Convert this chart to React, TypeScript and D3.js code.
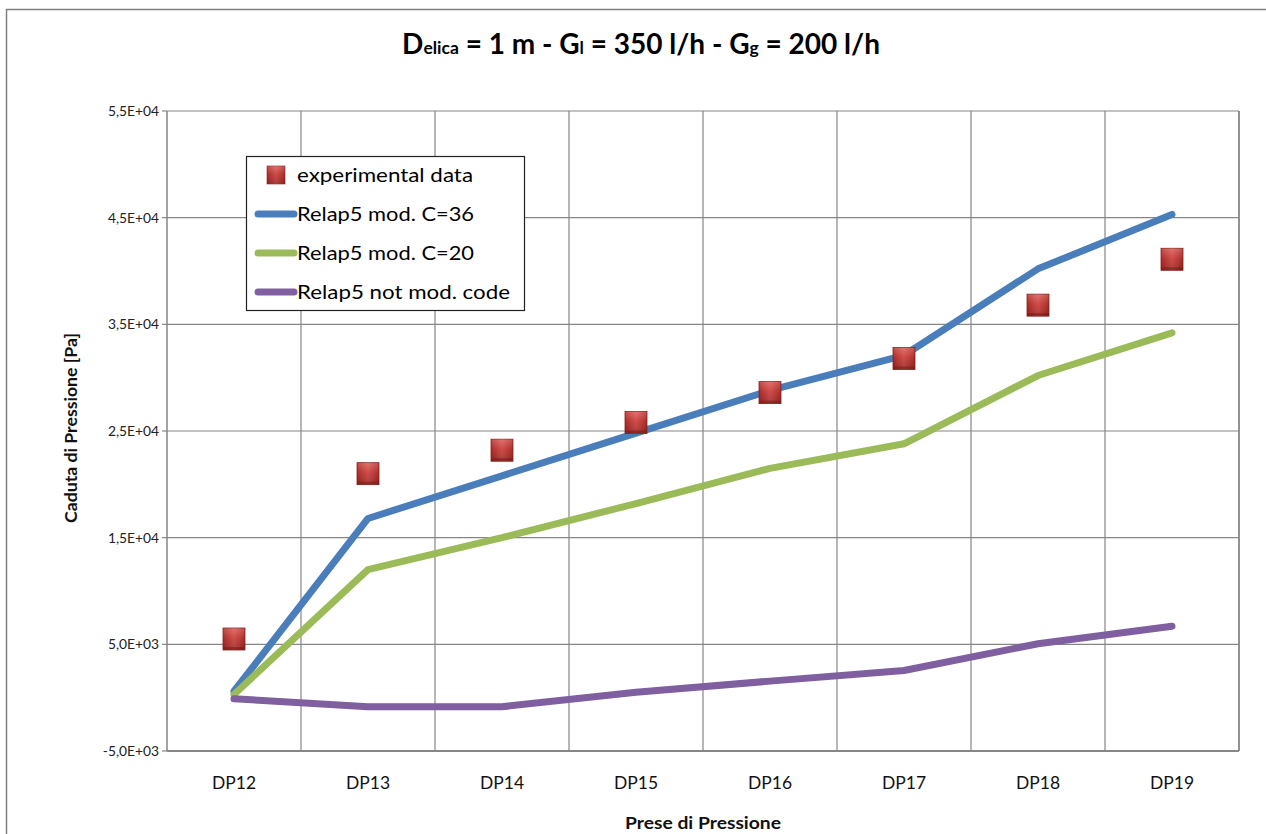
import React from "react";
import * as d3 from "d3";

const categories = ["DP12", "DP13", "DP14", "DP15", "DP16", "DP17", "DP18", "DP19"];
const experimental = [5500, 21000, 23200, 25800, 28600, 31800, 36800, 41100];
const relapC36 = [600, 16800, 20800, 24800, 28800, 32100, 40200, 45300];
const relapC20 = [300, 12000, 15000, 18200, 21500, 23800, 30200, 34200];
const relapNotMod = [-100, -850, -850, 500, 1550, 2550, 5050, 6700];
const yTicks = [-5000, 5000, 15000, 25000, 35000, 45000, 55000];
const yTickLabels = ["-5,0E+03", "5,0E+03", "1,5E+04", "2,5E+04", "3,5E+04", "4,5E+04", "5,5E+04"];

const series = [
  { name: "Relap5 mod. C=36", values: relapC36, color: "#4A7EBB", w: 177 },
  { name: "Relap5 mod. C=20", values: relapC20, color: "#9BBB59", w: 177 },
  { name: "Relap5 not mod. code", values: relapNotMod, color: "#7F5FA0", w: 213 },
];

const FONT = "Lato, 'Open Sans', sans-serif";

export default function App() {
  const left = 167, right = 1239, top = 111, bottom = 751;
  const x = d3.scaleBand().domain(categories).range([left, right]);
  const y = d3.scaleLinear().domain([-5000, 55000]).range([bottom, top]);
  const cx = (c: string) => (x(c) as number) + x.bandwidth() / 2;
  const line = d3
    .line<number>()
    .x((_, i) => cx(categories[i]))
    .y((v) => y(v));
  const grid = "#868686";
  const ms = 22;

  return (
    <svg width={1266} height={834} style={{ position: "absolute", left: 0, top: 0, background: "#fff" }}>
      <defs>
        <linearGradient id="mk" x1="0" y1="0" x2="0" y2="1">
          <stop offset="0" stopColor="#E0605C" />
          <stop offset="0.45" stopColor="#C83430" />
          <stop offset="1" stopColor="#A02622" />
        </linearGradient>
        <linearGradient id="mkh" x1="0" y1="0" x2="1" y2="0">
          <stop offset="0" stopColor="#000" stopOpacity="0.15" />
          <stop offset="0.5" stopColor="#fff" stopOpacity="0.12" />
          <stop offset="1" stopColor="#000" stopOpacity="0.15" />
        </linearGradient>
      </defs>
      <rect x={0} y={0} width={1266} height={834} fill="#fff" />
      {/* outer frame */}
      <path d="M6.5,834 L6.5,9.5 L1266,9.5" fill="none" stroke="#7f7f7f" strokeWidth={1.5} />

      {/* title */}
      <text x={641} y={54} textAnchor="middle" fontFamily={FONT} fontWeight="bold" fontSize={28} fill="#000">
        <tspan>D</tspan>
        <tspan fontSize={17.5}>elica</tspan>
        <tspan> = 1 m - G</tspan>
        <tspan fontSize={17.5}>l</tspan>
        <tspan> = 350 l/h - G</tspan>
        <tspan fontSize={17.5}>g</tspan>
        <tspan> = 200 l/h</tspan>
      </text>

      {/* horizontal gridlines */}
      {yTicks.map((t) => (
        <line key={"h" + t} x1={left} x2={right} y1={y(t)} y2={y(t)} stroke={grid} strokeWidth={1.2} />
      ))}
      {/* vertical gridlines */}
      {categories.map((c) => (
        <line key={"v" + c} x1={(x(c) as number) + x.bandwidth()} x2={(x(c) as number) + x.bandwidth()} y1={top} y2={bottom} stroke={grid} strokeWidth={1.2} />
      ))}
      {/* axes */}
      <line x1={left} x2={left} y1={top} y2={bottom} stroke={grid} strokeWidth={1.5} />
      <line x1={left} x2={right} y1={bottom} y2={bottom} stroke={grid} strokeWidth={2} />
      <line x1={right} x2={right} y1={top} y2={bottom} stroke={grid} strokeWidth={1.5} />
      {yTicks.map((t, i) => (
        <g key={"yt" + t}>
          <line x1={left - 5} x2={left} y1={y(t)} y2={y(t)} stroke={grid} strokeWidth={1.2} />
          <text x={left - 8} y={y(t) + 5} textAnchor="end" fontFamily={FONT} fontSize={13.8} fill="#222">
            {yTickLabels[i]}
          </text>
        </g>
      ))}
      {categories.map((c) => (
        <text key={"xl" + c} x={cx(c)} y={789} textAnchor="middle" fontFamily={FONT} fontSize={17} textLength={44} lengthAdjust="spacingAndGlyphs" fill="#111">
          {c}
        </text>
      ))}
      <text x={(left + right) / 2} y={829} textAnchor="middle" fontFamily={FONT} fontWeight="bold" fontSize={17.5} textLength={156} lengthAdjust="spacingAndGlyphs" fill="#111">
        Prese di Pressione
      </text>
      <text transform={`translate(77,428) rotate(-90)`} textAnchor="middle" fontFamily={FONT} fontWeight="bold" fontSize={17.5} textLength={190} lengthAdjust="spacingAndGlyphs" fill="#111">
        Caduta di Pressione [Pa]
      </text>

      {/* lines */}
      {series.map((s) => (
        <path key={s.name} d={line(s.values) as string} fill="none" stroke={s.color} strokeWidth={7} strokeLinejoin="round" strokeLinecap="round" />
      ))}
      {/* markers */}
      {experimental.map((v, i) => (
        <g key={"m" + i} transform={`translate(${cx(categories[i]) - ms / 2},${y(v) - ms / 2})`}>
          <rect width={ms} height={ms} fill="url(#mk)" stroke="#8E2420" strokeWidth={0.8} />
          <rect width={ms} height={ms} fill="url(#mkh)" />
          <rect x={0} y={ms - 3} width={ms} height={3} fill="#7A1E1B" opacity={0.6} />
        </g>
      ))}

      {/* legend */}
      <rect x={246.5} y={156.5} width={278} height={154} fill="#fff" stroke="#222" strokeWidth={1.2} />
      <g transform={`translate(${276 - 9},${175 - 9})`}>
        <rect width={18} height={18} fill="url(#mk)" stroke="#8E2420" strokeWidth={0.6} />
        <rect width={18} height={18} fill="url(#mkh)" />
      </g>
      <text x={297} y={182} fontFamily={FONT} fontSize={20} textLength={176} lengthAdjust="spacingAndGlyphs" fill="#000">experimental data</text>
      {series.map((s, i) => {
        const ly = 214 + i * 39;
        return (
          <g key={"lg" + s.name}>
            <line x1={258} x2={294} y1={ly} y2={ly} stroke={s.color} strokeWidth={7} strokeLinecap="round" />
            <text x={297} y={ly + 7} fontFamily={FONT} fontSize={20} textLength={s.w} lengthAdjust="spacingAndGlyphs" fill="#000">{s.name}</text>
          </g>
        );
      })}
    </svg>
  );
}
